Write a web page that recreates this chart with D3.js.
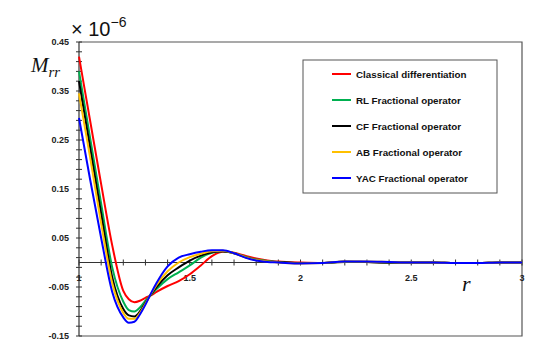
<!DOCTYPE html>
<html>
<head>
<meta charset="utf-8">
<script src="https://cdn.jsdelivr.net/npm/d3@7"></script>
<style>
  body { margin: 0; background: #fff; }
  svg text { font-family: "Liberation Sans", Arial, sans-serif; }
</style>
</head>
<body>
<svg id="chart" width="557" height="348"></svg>
<script>
// radial positions r
const rValues = [1.0, 1.05, 1.1, 1.15, 1.2, 1.225, 1.25, 1.275, 1.3, 1.325, 1.35, 1.4, 1.45, 1.5, 1.55, 1.6, 1.65, 1.7, 1.75, 1.8, 1.85, 1.9, 2.0, 2.1, 2.2, 2.3, 2.4, 2.5, 2.6, 2.7, 2.8, 2.9, 3.0];

// M_rr (x 1e-6) per operator
const classical = [0.42, 0.29, 0.16, 0.035, -0.058, -0.075, -0.081, -0.078, -0.072, -0.067, -0.060, -0.048, -0.038, -0.024, -0.006, 0.013, 0.022, 0.020, 0.014, 0.008, 0.004, 0.002, 0.0, -0.001, 0.001, 0.001, 0.0, 0.0, 0.0, -0.001, -0.001, 0.0, 0.0];
const rlOp      = [0.39, 0.255, 0.12, -0.01, -0.08, -0.097, -0.1, -0.092, -0.078, -0.066, -0.054, -0.034, -0.02, -0.006, 0.01, 0.02, 0.023, 0.019, 0.012, 0.006, 0.003, 0.001, -0.001, -0.001, 0.001, 0.001, 0.0, 0.0, 0.0, -0.001, -0.001, 0.0, 0.0];
const cfOp      = [0.37, 0.235, 0.10, -0.03, -0.095, -0.108, -0.11, -0.1, -0.082, -0.065, -0.05, -0.026, -0.01, 0.004, 0.014, 0.021, 0.023, 0.019, 0.011, 0.005, 0.002, 0.001, -0.001, -0.001, 0.002, 0.001, 0.0, 0.0, 0.0, -0.001, -0.001, 0.0, 0.0];
const abOp      = [0.345, 0.215, 0.08, -0.042, -0.103, -0.115, -0.115, -0.103, -0.084, -0.064, -0.046, -0.018, 0.0, 0.011, 0.018, 0.023, 0.024, 0.019, 0.011, 0.005, 0.002, 0.0, -0.002, -0.001, 0.002, 0.002, 0.001, 0.0, 0.0, -0.001, -0.001, 0.0, 0.0];
const yacOp     = [0.295, 0.17, 0.05, -0.06, -0.112, -0.123, -0.121, -0.106, -0.086, -0.063, -0.042, -0.008, 0.010, 0.017, 0.022, 0.025, 0.025, 0.019, 0.010, 0.004, 0.001, 0.0, -0.002, -0.001, 0.002, 0.002, 0.001, 0.0, 0.0, -0.001, -0.001, 0.0, 0.0];

const seriesNames  = ["Classical differentiation", "RL Fractional operator", "CF Fractional operator", "AB Fractional operator", "YAC Fractional operator"];
const seriesValues = [classical, rlOp, cfOp, abOp, yacOp];
const seriesColors = ["#ff0000", "#00b050", "#000000", "#ffc000", "#0000ff"];

const xTickLabels = [1, 1.5, 2, 2.5, 3];
const yTickLabels = [0.45, 0.35, 0.25, 0.15, 0.05, -0.05, -0.15];

// 1) Scales
const svg = d3.select("#chart");
const plotL = 79, plotR = 522, plotT = 42, plotB = 336;
const x = d3.scaleLinear().domain([1, 3]).range([plotL, plotR]);
const y = d3.scaleLinear().domain([-0.15, 0.45]).range([plotB, plotT]);

// 2) Frame
svg.append("path")
  .attr("d", `M${plotL},${plotT}H${plotR}V${plotB}H${plotL}`)
  .attr("fill", "none")
  .attr("stroke", "#555")
  .attr("stroke-width", 1.2);

// 3) Y axis with minor ticks every 0.02
svg.append("line")
  .attr("x1", plotL).attr("x2", plotL).attr("y1", plotT).attr("y2", plotB)
  .attr("stroke", "#333").attr("stroke-width", 1.2);
const yMinor = d3.range(0, 31).map(i => -0.15 + i * 0.02);
svg.selectAll("line.ytick").data(yMinor).enter().append("line")
  .attr("class", "ytick")
  .attr("x1", plotL - 3).attr("x2", plotL + 3)
  .attr("y1", d => y(d)).attr("y2", d => y(d))
  .attr("stroke", "#333").attr("stroke-width", 1);
svg.selectAll("text.ylab").data(yTickLabels).enter().append("text")
  .attr("class", "ylab")
  .attr("x", plotL - 10).attr("y", d => y(d) + 3)
  .attr("text-anchor", "end")
  .attr("font-size", 9).attr("font-weight", "bold").attr("fill", "#222")
  .text(d => d.toFixed(2));

// 4) X axis at zero
svg.append("line")
  .attr("x1", plotL).attr("x2", plotR).attr("y1", y(0)).attr("y2", y(0))
  .attr("stroke", "#333").attr("stroke-width", 1.2);
const xMinor = d3.range(0, 21).map(i => 1 + i * 0.1);
svg.selectAll("line.xtick").data(xMinor).enter().append("line")
  .attr("class", "xtick")
  .attr("x1", d => x(d)).attr("x2", d => x(d))
  .attr("y1", y(0) - 3).attr("y2", y(0) + 3)
  .attr("stroke", "#333").attr("stroke-width", 1);
svg.selectAll("text.xlab").data(xTickLabels).enter().append("text")
  .attr("class", "xlab")
  .attr("x", d => x(d)).attr("y", y(0) + 18)
  .attr("text-anchor", "middle")
  .attr("font-size", 9).attr("font-weight", "bold").attr("fill", "#222")
  .text(d => d);

// 5) Curves
const line = d3.line()
  .x((d, i) => x(rValues[i]))
  .y(d => y(d))
  .curve(d3.curveMonotoneX);
svg.selectAll("path.series").data(seriesValues).enter().append("path")
  .attr("class", "series")
  .attr("d", d => line(d))
  .attr("fill", "none")
  .attr("stroke", (d, i) => seriesColors[i])
  .attr("stroke-width", 2);

// 6) Exponent and axis labels
const expo = svg.append("text").attr("x", 71).attr("y", 36)
  .attr("font-size", 20).attr("fill", "#111");
expo.append("tspan").text("\u00d7 10");
expo.append("tspan").attr("dy", -9).attr("font-size", 14).text("\u22126");

const yLabel = svg.append("text").attr("x", 31).attr("y", 72)
  .style("font-family", "'Liberation Serif', 'DejaVu Serif', serif")
  .attr("font-style", "italic").attr("font-size", 21).attr("fill", "#111");
yLabel.append("tspan").text("M");
yLabel.append("tspan").attr("dy", 5).attr("font-size", 15).text("rr");

svg.append("text").attr("x", 462).attr("y", 291)
  .style("font-family", "'Liberation Serif', 'DejaVu Serif', serif")
  .attr("font-style", "italic").attr("font-size", 22).attr("fill", "#111")
  .text("r");

// 7) Legend
const lg = svg.append("g");
lg.append("rect")
  .attr("x", 303).attr("y", 60).attr("width", 194).attr("height", 133)
  .attr("fill", "#fff").attr("stroke", "#555").attr("stroke-width", 1);
seriesNames.forEach((name, i) => {
  const ly = 74 + i * 26;
  lg.append("line")
    .attr("x1", 332).attr("x2", 351).attr("y1", ly).attr("y2", ly)
    .attr("stroke", seriesColors[i]).attr("stroke-width", 2);
  lg.append("text")
    .attr("x", 356).attr("y", ly + 3.5)
    .attr("font-size", 9.8).attr("font-weight", "bold").attr("fill", "#111")
    .text(name);
});
</script>
</body>
</html>
